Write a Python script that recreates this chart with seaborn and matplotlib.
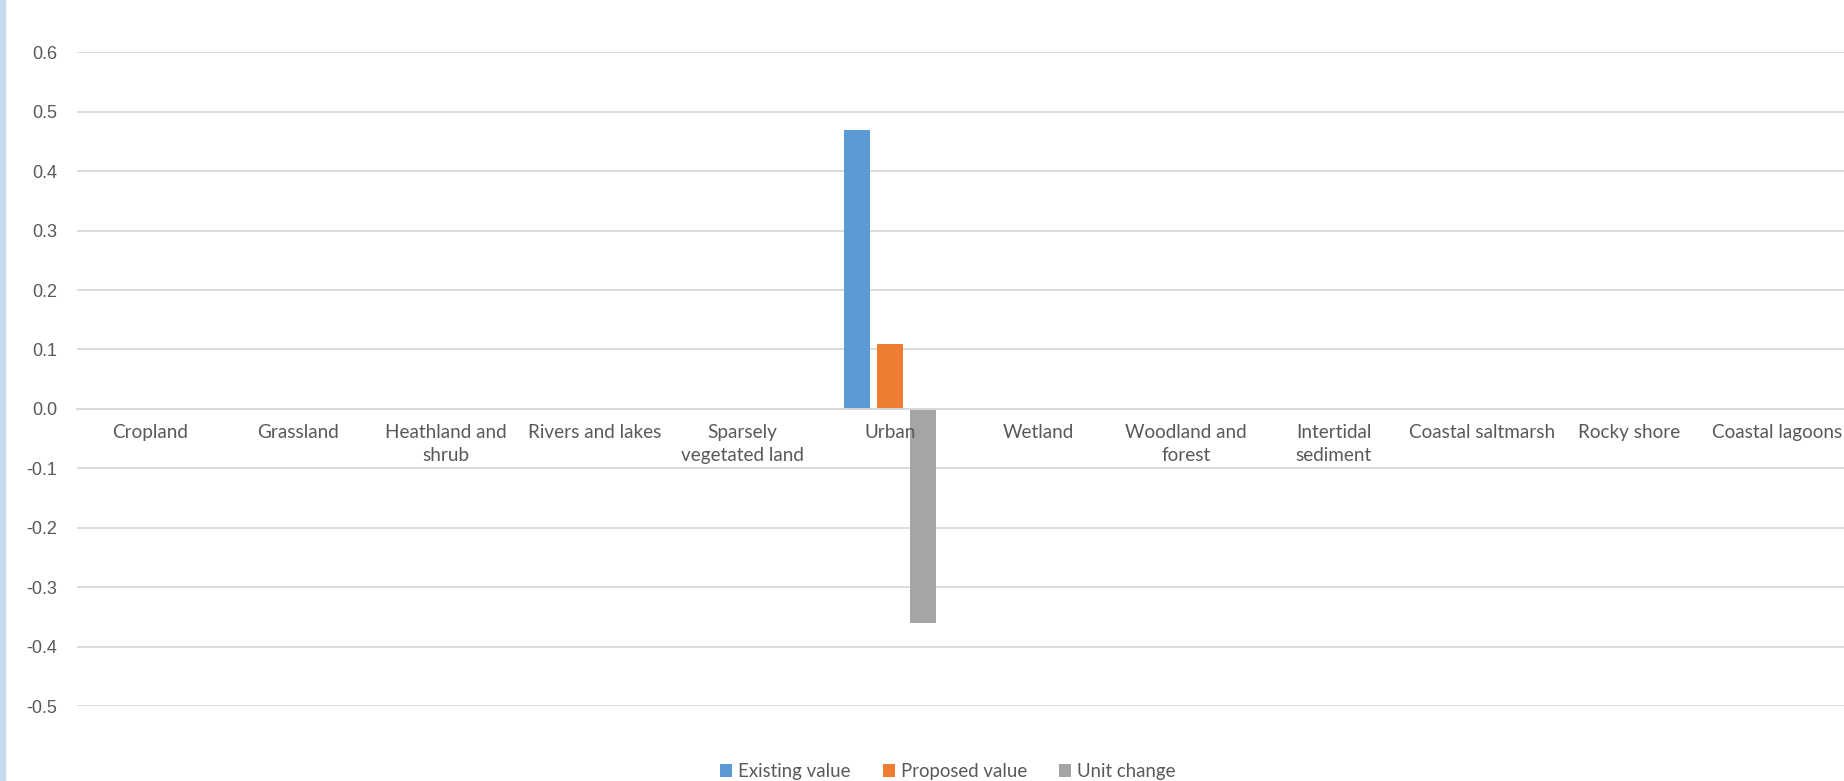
import numpy as np
import pandas as pd
import seaborn as sns
import matplotlib.pyplot as plt
from matplotlib.patches import Rectangle

categories = ["Cropland", "Grassland", "Heathland and\nshrub", "Rivers and lakes",
              "Sparsely\nvegetated land", "Urban", "Wetland", "Woodland and\nforest",
              "Intertidal\nsediment", "Coastal saltmarsh", "Rocky shore", "Coastal lagoons"]
existing_value = [0, 0, 0, 0, 0, 0.47, 0, 0, 0, 0, 0, 0]
proposed_value = [0, 0, 0, 0, 0, 0.11, 0, 0, 0, 0, 0, 0]
unit_change = [0, 0, 0, 0, 0, -0.36, 0, 0, 0, 0, 0, 0]
series = ["Existing value", "Proposed value", "Unit change"]
colors = ["#5b9bd5", "#ed7d31", "#a5a5a5"]
yticks = [-0.5, -0.4, -0.3, -0.2, -0.1, 0.0, 0.1, 0.2, 0.3, 0.4, 0.5, 0.6]

text_color = "#595959"
grid_color = "#d9d9d9"

df = pd.DataFrame({
    "category": categories * 3,
    "value": existing_value + proposed_value + unit_change,
    "series": np.repeat(series, len(categories)),
})

sns.set_style("white")
plt.rcParams['font.family'] = ['Lato', 'DejaVu Sans']

fig = plt.figure(figsize=(18.44, 7.81), dpi=100)
ax = fig.add_axes([0.0415, 0.096, 0.9585, 0.837])

sns.barplot(data=df, x="category", y="value", hue="series", order=categories,
            hue_order=series, palette=colors, width=0.67, gap=0.21,
            linewidth=0, saturation=1, ax=ax)

# the original chart is cropped on the right, so the last category runs off the edge
ax.set_xlim(-0.5, 11.45)
ax.set_ylim(-0.5, 0.6)
ax.set_yticks(yticks)
ax.set_yticklabels([f"{t:.1f}" for t in yticks], fontsize=13, color=text_color,
                   family=['Liberation Sans', 'DejaVu Sans'])
ax.grid(axis='y', color=grid_color, linewidth=1.3)
ax.set_axisbelow(True)
ax.xaxis.set_zorder(5)

for s in ["top", "right", "left"]:
    ax.spines[s].set_visible(False)
ax.spines["bottom"].set_position(("data", 0))
ax.spines["bottom"].set_color(grid_color)
ax.spines["bottom"].set_linewidth(1.3)

ax.tick_params(axis='y', length=0, pad=14)
ax.tick_params(axis='x', length=0, pad=11, labelsize=13.6, labelcolor=text_color)
for lbl in ax.get_xticklabels():
    lbl.set_linespacing(1.45)
ax.set_xlabel("")
ax.set_ylabel("")

ax.legend(loc="center", bbox_to_anchor=(0.514, 0.012), bbox_transform=fig.transFigure,
          ncol=3, frameon=False, handlelength=0.65, handleheight=0.65, handletextpad=0.32,
          columnspacing=1.72, prop={'family': ['Liberation Sans Narrow', 'Lato'], 'size': 13.4},
          labelcolor=text_color)

# window border strip on the left
fig.patches.append(Rectangle((0, 0), 0.0025, 1, transform=fig.transFigure,
                             color="#c7dbee", zorder=0))

fig.savefig("out.png", dpi=100)
